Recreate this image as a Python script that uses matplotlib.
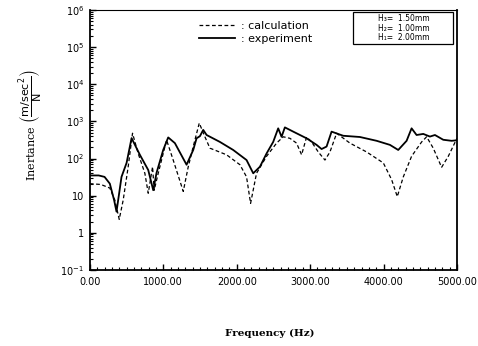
import matplotlib.pyplot as plt
from matplotlib.patches import Rectangle
from matplotlib.ticker import FixedLocator, FixedFormatter, MultipleLocator, LogLocator, NullFormatter

# measured response (solid)
freq_exp = [0, 120, 200, 272, 330, 363, 431, 500, 568, 681, 795, 863, 908, 999, 1067,
            1158, 1317, 1408, 1453, 1499, 1544, 1590, 1771, 1952, 2134, 2225, 2316, 2407,
            2497, 2565, 2611, 2656, 2770, 2952, 3088, 3156, 3224, 3292, 3451, 3678, 3906,
            4087, 4200, 4314, 4382, 4450, 4541, 4632, 4700, 4813, 4927, 5000]
iner_exp = [35, 35, 32, 21, 7.6, 3.7, 32, 76, 355, 126, 49, 14, 41, 170, 370,
            260, 68, 170, 350, 400, 590, 430, 280, 170, 91, 40, 60, 137,
            280, 650, 385, 690, 530, 350, 233, 180, 210, 530, 410, 380, 300,
            233, 170, 300, 650, 430, 460, 390, 430, 320, 300, 310]

# computed response (dashed)
freq_calc = [0, 150, 272, 340, 400, 454, 522, 581, 658, 749, 795, 854, 876, 931, 999,
             1045, 1135, 1272, 1340, 1408, 1490, 1567, 1635, 1862, 2044, 2134, 2189,
             2270, 2407, 2543, 2634, 2725, 2815, 2884, 2952, 3020, 3111, 3202, 3270,
             3361, 3542, 3770, 3997, 4110, 4187, 4269, 4382, 4519, 4587, 4677, 4791,
             4882, 5000]
iner_calc = [21, 20, 16, 7.6, 2.3, 7.6, 60, 480, 137, 40, 11.6, 60, 14, 40, 137,
             315, 91, 13, 60, 210, 900, 385, 190, 126, 68, 32, 6.2,
             40, 115, 260, 385, 350, 260, 126, 380, 280, 150, 91, 150,
             480, 260, 150, 76, 27, 9.4, 32, 115, 280, 385, 190, 58,
             115, 350]

xticks = [0, 1000, 2000, 3000, 4000, 5000]
xlabels = ['0.00', '1000.00', '2000.00', '3000.00', '4000.00', '5000.00']
yticks = [1e-1, 1, 10, 1e2, 1e3, 1e4, 1e5, 1e6]
ylabels = ['10$^{-1}$', '1', '10', '10$^{2}$', '10$^{3}$', '10$^{4}$', '10$^{5}$', '10$^{6}$']
thickness = ['H\u2083=  1.50mm', 'H\u2082=  1.00mm', 'H\u2081=  2.00mm']

fig = plt.figure(figsize=(4.78, 3.46), dpi=100)
ax = fig.add_axes([0.188, 0.22, 0.768, 0.751])

ax.plot(freq_calc, iner_calc, color='black', lw=0.9, ls=(0, (3, 2)), label=': calculation')
ax.plot(freq_exp, iner_exp, color='black', lw=1.3, label=': experiment')

ax.set_yscale('log')
ax.set_xlim(0, 5000)
ax.set_ylim(1e-1, 1e6)

ax.xaxis.set_major_locator(FixedLocator(xticks))
ax.xaxis.set_major_formatter(FixedFormatter(xlabels))
ax.xaxis.set_minor_locator(MultipleLocator(100))
ax.yaxis.set_major_locator(FixedLocator(yticks))
ax.yaxis.set_major_formatter(FixedFormatter(ylabels))
ax.yaxis.set_minor_locator(LogLocator(base=10, subs=range(2, 10), numticks=20))
ax.yaxis.set_minor_formatter(NullFormatter())

ax.tick_params(which='both', direction='in', labelsize=7)
ax.tick_params(which='major', length=4, width=1)
ax.tick_params(which='minor', length=2.5, width=0.8)
ax.tick_params(axis='x', pad=5)
ax.tick_params(axis='y', pad=4)

for side in ['left', 'right', 'bottom']:
    ax.spines[side].set_linewidth(1.3)
ax.spines['top'].set_linewidth(0.8)

ax.legend(loc='upper left', bbox_to_anchor=(0.27, 0.995), frameon=False,
          fontsize=8, handlelength=3.2, handletextpad=0.6, labelspacing=0.2)

# thickness box, one line of text per layer
ax.add_patch(Rectangle((0.717, 0.869), 0.273, 0.123, transform=ax.transAxes,
                       fill=False, ec='black', lw=0.9, clip_on=False))
for i, line in enumerate(thickness):
    ax.text(0.785, 0.967 - i * 0.0365, line, transform=ax.transAxes,
            fontsize=5.5, va='center', ha='left')

fig.text(0.065, 0.64, r'Inertance $\left(\dfrac{\mathrm{m/sec^2}}{\mathrm{N}}\right)$',
         rotation=90, ha='center', va='center', fontsize=8, family='DejaVu Serif')
fig.text(0.565, 0.035, 'Frequency (Hz)', ha='center', va='center',
         fontsize=7.5, family='DejaVu Serif', fontweight='bold')

fig.savefig('out.png', dpi=100)
